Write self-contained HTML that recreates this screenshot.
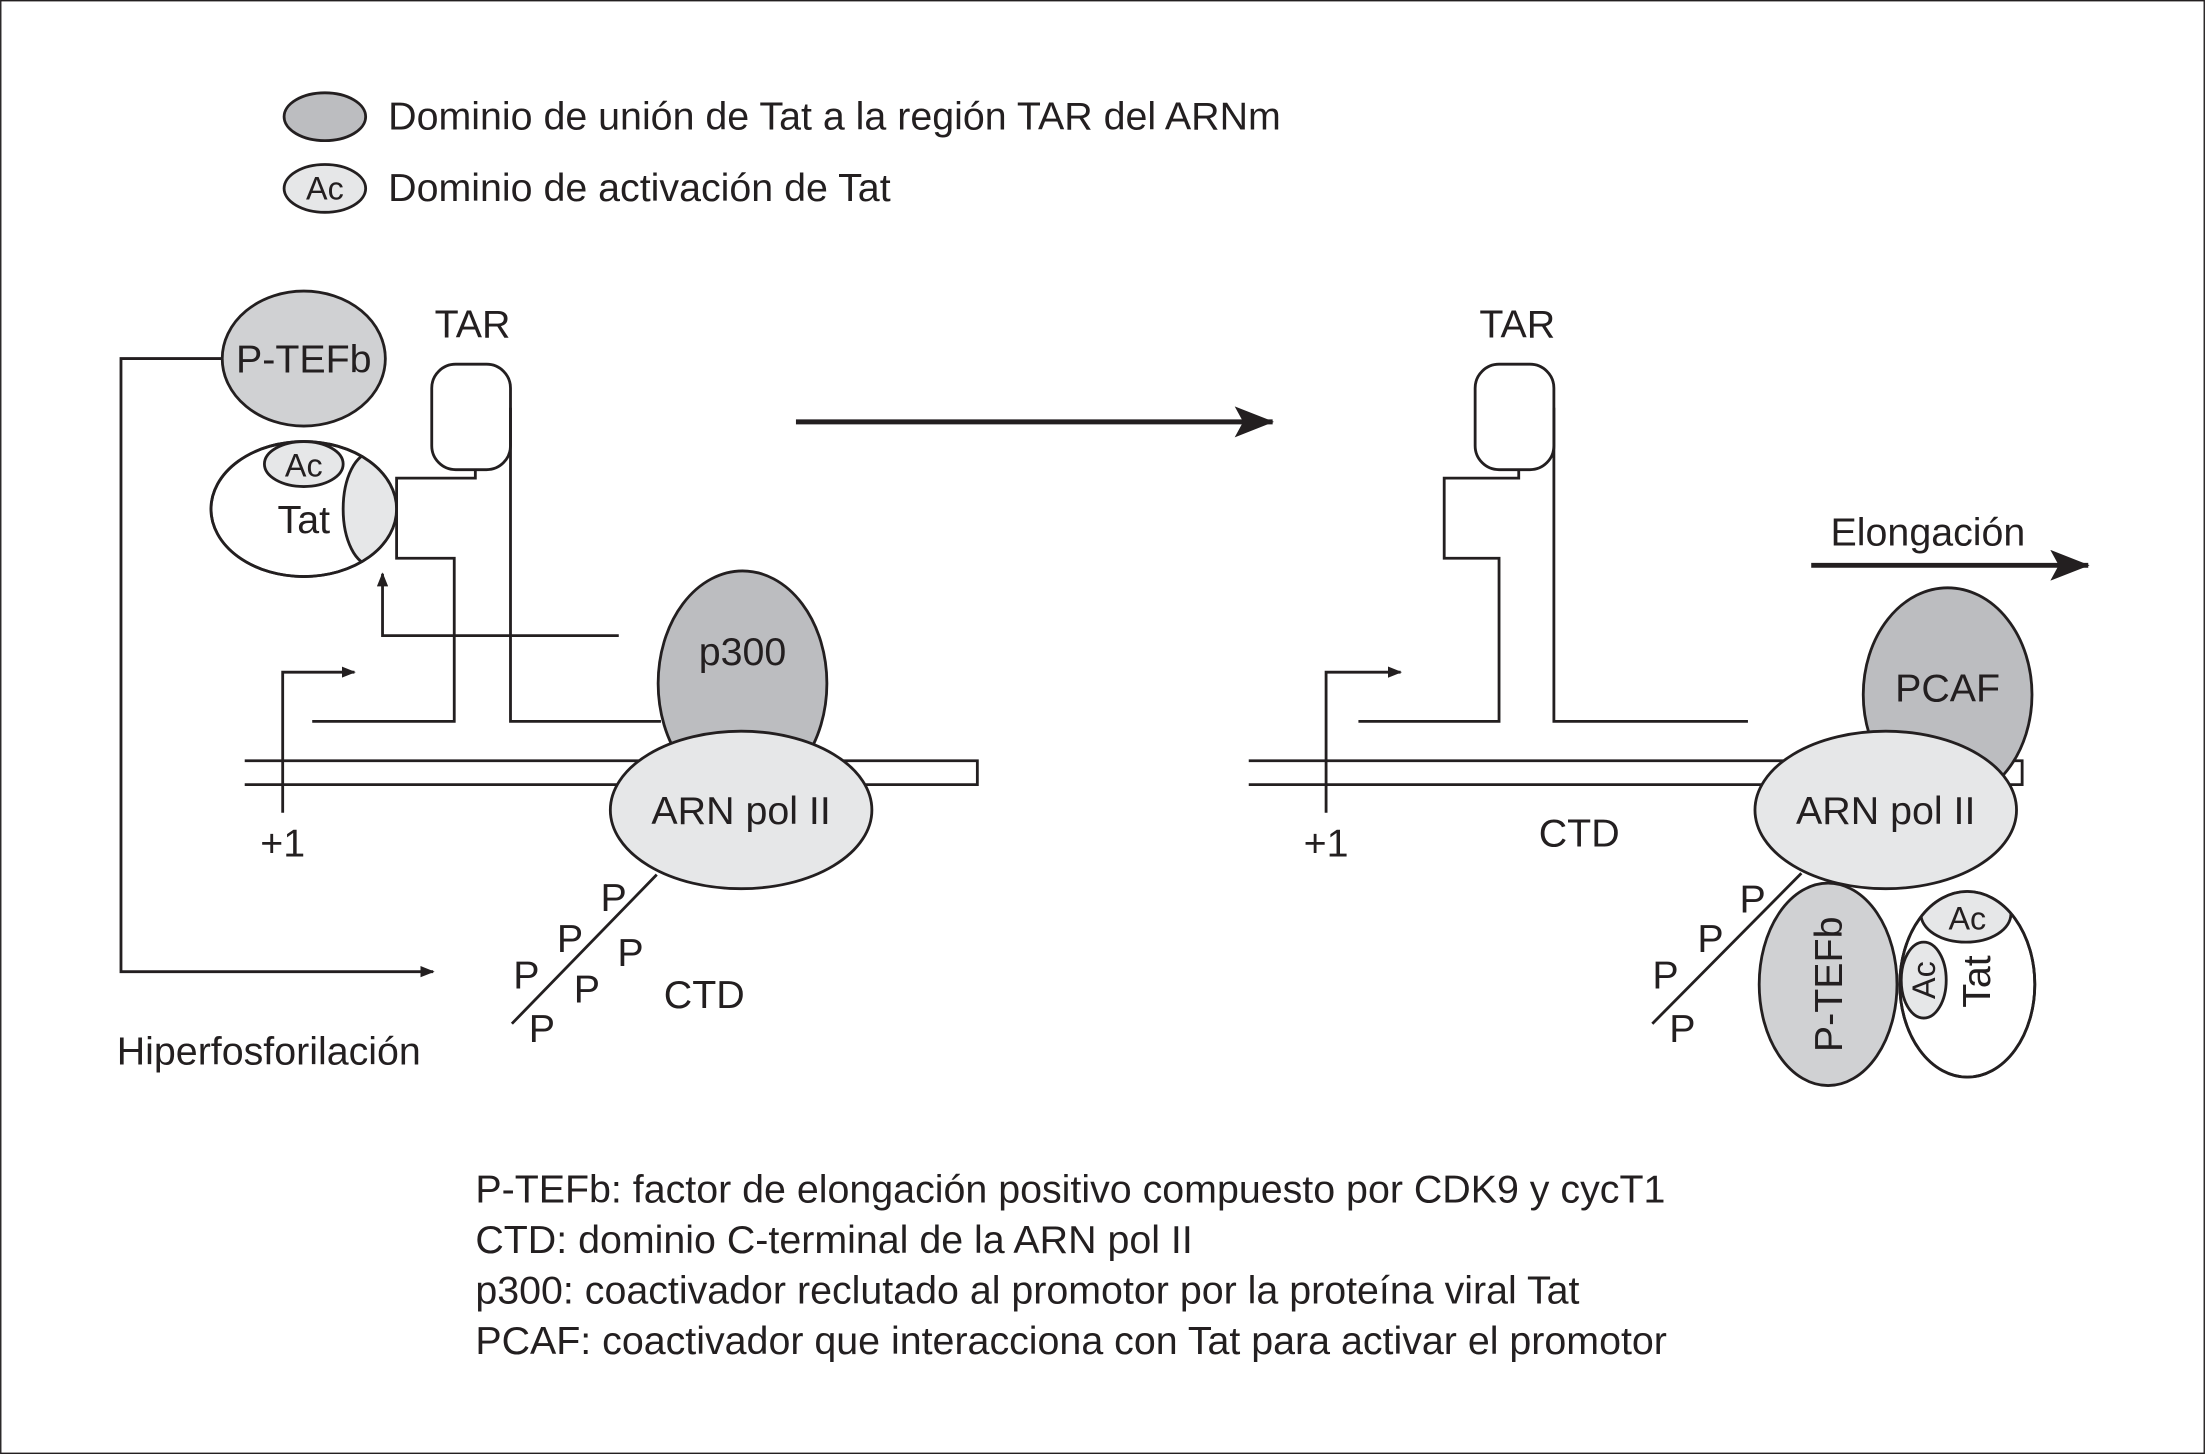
<!DOCTYPE html><html><head><style>html,body{margin:0;padding:0;background:#fff}svg{display:block}text{font-family:"Liberation Sans",Arial,sans-serif;fill:#231f20}</style></head><body>
<svg width="2205" height="1454" viewBox="0 0 1568 1034" xmlns="http://www.w3.org/2000/svg">
<defs>
<marker id="a" markerWidth="10" markerHeight="8" refX="9" refY="4" orient="auto" markerUnits="userSpaceOnUse"><path d="M0,0 L10,4 L0,8 Z" fill="#231f20"/></marker>
<marker id="b" markerWidth="28" markerHeight="22" refX="27" refY="11" orient="auto" markerUnits="userSpaceOnUse"><path d="M0,0 L28,11 L0,22 L6,11 Z" fill="#231f20"/></marker>
<clipPath id="t1"><ellipse cx="216" cy="362" rx="66" ry="48"/></clipPath>
<clipPath id="t2"><ellipse cx="1399" cy="700" rx="48" ry="66"/></clipPath>
</defs>
<rect x="0.5" y="0.5" width="1567" height="1033" fill="#fff" stroke="#231f20" stroke-width="1"/>
<g stroke="#231f20" stroke-width="2" fill="none">
<ellipse cx="231" cy="83" rx="29" ry="17" fill="#bcbdc0"/>
<ellipse cx="231" cy="134" rx="29" ry="17" fill="#e6e7e8"/>
<polyline points="158,255 86,255 86,691 308,691" marker-end="url(#a)"/>
<ellipse cx="216" cy="255" rx="58" ry="48" fill="#d0d1d3"/>
<ellipse cx="216" cy="362" rx="66" ry="48" fill="#fff"/>
<ellipse cx="264" cy="362" rx="20" ry="40" fill="#e6e7e8" clip-path="url(#t1)"/>
<ellipse cx="216" cy="362" rx="66" ry="48"/>
<ellipse cx="216" cy="330" rx="28" ry="16" fill="#e6e7e8"/>
<rect x="307" y="259" width="56" height="75" rx="17"/>
<polyline points="363,290 363,513 470,513"/>
<polyline points="338,334 338,340 282,340 282,397 323,397 323,513 222,513"/>
<polyline points="440,452 272,452 272,408" marker-end="url(#a)"/>
<polyline points="201,578 201,478 252,478" marker-end="url(#a)"/>
<path d="M174,541 H695 V558 H174"/>
<ellipse cx="528" cy="486" rx="60" ry="80" fill="#bcbdc0"/>
<ellipse cx="527" cy="576" rx="93" ry="56" fill="#e6e7e8"/>
<line x1="467" y1="622" x2="364" y2="728"/>
<line x1="566" y1="300" x2="905" y2="300" stroke-width="3.5" marker-end="url(#b)"/>
<rect x="1049" y="259" width="56" height="75" rx="17"/>
<polyline points="1105,290 1105,513 1243,513"/>
<polyline points="1080,334 1080,340 1027,340 1027,397 1066,397 1066,513 966,513"/>
<polyline points="943,578 943,478 996,478" marker-end="url(#a)"/>
<path d="M888,541 H1438 V558 H888"/>
<line x1="1288" y1="402" x2="1485" y2="402" stroke-width="3.5" marker-end="url(#b)"/>
<ellipse cx="1385" cy="494" rx="60" ry="76" fill="#bcbdc0"/>
<ellipse cx="1341" cy="576" rx="93" ry="56" fill="#e6e7e8"/>
<line x1="1281" y1="621" x2="1175" y2="728"/>
<ellipse cx="1300" cy="700" rx="49" ry="72" fill="#d0d1d3"/>
<ellipse cx="1399" cy="700" rx="48" ry="66" fill="#fff"/>
<ellipse cx="1398" cy="650" rx="32" ry="20" fill="#e6e7e8" clip-path="url(#t2)"/>
<ellipse cx="1399" cy="700" rx="48" ry="66"/>
<ellipse cx="1368" cy="697" rx="16" ry="27" fill="#e6e7e8"/>
</g>
<g font-size="28">
<text x="276" y="92">Dominio de unión de Tat a la región TAR del ARNm</text>
<text x="276" y="143">Dominio de activación de Tat</text>
<text x="231" y="142" text-anchor="middle" font-size="23">Ac</text>
<text x="216" y="265" text-anchor="middle">P-TEFb</text>
<text x="336" y="240" text-anchor="middle">TAR</text>
<text x="216" y="339" text-anchor="middle" font-size="23">Ac</text>
<text x="216" y="379" text-anchor="middle">Tat</text>
<text x="528" y="473" text-anchor="middle">p300</text>
<text x="527" y="586" text-anchor="middle">ARN pol II</text>
<text x="201" y="609" text-anchor="middle">+1</text>
<text x="83" y="757">Hiperfosforilación</text>
<text x="427" y="648">P</text><text x="396" y="677">P</text><text x="439" y="687">P</text>
<text x="365" y="703">P</text><text x="408" y="713">P</text><text x="376" y="741">P</text>
<text x="472" y="717">CTD</text>
<text x="1079" y="240" text-anchor="middle">TAR</text>
<text x="1371" y="388" text-anchor="middle">Elongación</text>
<text x="1385" y="499" text-anchor="middle">PCAF</text>
<text x="1341" y="586" text-anchor="middle">ARN pol II</text>
<text x="943" y="609" text-anchor="middle">+1</text>
<text x="1123" y="602" text-anchor="middle">CTD</text>
<text x="1237" y="649">P</text><text x="1207" y="677">P</text><text x="1175" y="703">P</text><text x="1187" y="741">P</text>
<text transform="translate(1310,700) rotate(-90)" text-anchor="middle">P-TEFb</text>
<text x="1399" y="661" text-anchor="middle" font-size="23">Ac</text>
<text transform="translate(1376,697) rotate(-90)" text-anchor="middle" font-size="23">Ac</text>
<text transform="translate(1415,698) rotate(-90)" text-anchor="middle">Tat</text>
<text x="338" y="855">P-TEFb: factor de elongación positivo compuesto por CDK9 y cycT1</text>
<text x="338" y="891">CTD: dominio C-terminal de la ARN pol II</text>
<text x="338" y="927">p300: coactivador reclutado al promotor por la proteína viral Tat</text>
<text x="338" y="963">PCAF: coactivador que interacciona con Tat para activar el promotor</text>
</g>
</svg></body></html>
